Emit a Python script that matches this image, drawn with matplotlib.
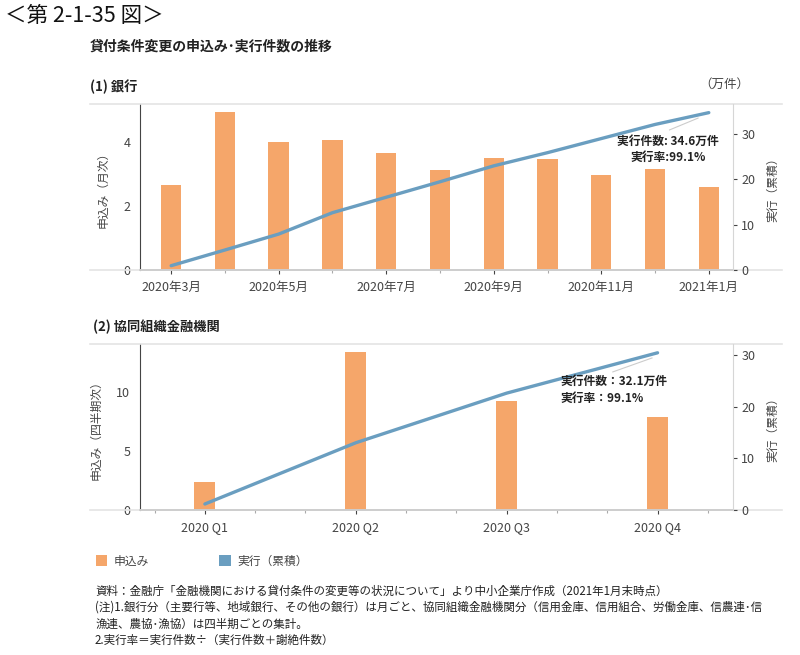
#!/usr/bin/env python3
"""Loan condition change applications / executions (fig 2-1-35), redrawn."""

import matplotlib
matplotlib.use("Agg")
import matplotlib.pyplot as plt
from matplotlib.lines import Line2D
from matplotlib.patches import Patch

plt.rcParams["font.family"] = ["Noto Sans CJK JP", "DejaVu Sans"]

# (1) banks, monthly
months = ["2020年3月", "2020年4月", "2020年5月", "2020年6月", "2020年7月",
          "2020年8月", "2020年9月", "2020年10月", "2020年11月", "2020年12月",
          "2021年1月"]
bank_apply = [2.66, 4.95, 4.0, 4.05, 3.67, 3.12, 3.49, 3.46, 2.96, 3.17, 2.59]
bank_cum = [0.95, 4.4, 7.9, 12.6, 16.0, 19.4, 22.9, 25.8, 28.9, 32.0, 34.6]

# (2) cooperative institutions, quarterly (placed on a month axis)
quarters = ["2020 Q1", "2020 Q2", "2020 Q3", "2020 Q4"]
quarter_month = [0, 3, 6, 9]
coop_apply = [2.37, 13.4, 9.26, 7.88]
coop_cum = [1.16, 13.0, 22.6, 30.4]

ORANGE = "#f5a66a"
BLUE = "#6a9ec0"
DARK = "#444444"
GRID = "#e4e4e4"

W, H = 800, 655


def fx(px):
    return px / W


def fy(py):
    return 1 - py / H


def frame(fig, top, bottom):
    # light horizontal rules spanning wider than the plot area
    for y in (top, bottom):
        fig.add_artist(Line2D([fx(90), fx(782)], [fy(y), fy(y)],
                              color=GRID, lw=1.2, zorder=0))


def style(ax, ax2):
    for s in ("top", "right"):
        ax.spines[s].set_visible(False)
    ax.spines["left"].set_color(DARK)
    ax.spines["bottom"].set_color(DARK)
    ax.spines["bottom"].set_linewidth(1.2)
    for s in ("top", "left", "bottom"):
        ax2.spines[s].set_visible(False)
    ax2.spines["right"].set_color("#d6d6d6")
    ax.tick_params(axis="y", length=0, pad=7, labelsize=9, labelcolor=DARK)
    ax2.tick_params(axis="y", length=3, width=0.8, color=DARK, pad=3,
                    labelsize=9, labelcolor=DARK)
    ax.tick_params(axis="x", which="major", length=3, width=0.8, color=DARK,
                   pad=5, labelsize=9, labelcolor=DARK)
    ax.tick_params(axis="x", which="minor", length=2, width=0.8,
                   color="#aaaaaa")
    ax.set_zorder(ax2.get_zorder() - 1)
    ax.patch.set_visible(False)
    ax2.patch.set_visible(False)


fig = plt.figure(figsize=(W / 100, H / 100), dpi=100)

fig.text(fx(5), fy(16), "＜第 2-1-35 図＞", fontsize=15.5, va="center",
         color="#111111")
fig.text(fx(90), fy(47), "貸付条件変更の申込み･実行件数の推移", fontsize=10,
         fontweight="bold", va="center", color="#222222")

# ---------- (1) banks ----------
fig.text(fx(90), fy(87), "(1) 銀行", fontsize=9.5, fontweight="bold",
         va="center", color="#222222")
fig.text(fx(724), fy(84), "（万件）", fontsize=9, va="center", ha="center",
         color=DARK)
frame(fig, 104, 270)
ax1 = fig.add_axes([fx(140), fy(270), fx(733) - fx(140), (270 - 104) / H])
ax1b = ax1.twinx()
style(ax1, ax1b)

xs = list(range(len(months)))
ax1.bar(xs, bank_apply, width=0.38, color=ORANGE)
ax1b.plot(xs, bank_cum, color=BLUE, lw=2.4, solid_capstyle="round")
ax1.set_xlim(-0.58, 10.45)
ax1.set_ylim(0, 5.19)
ax1b.set_ylim(0, 36.5)
ax1.set_yticks([0, 2, 4])
ax1b.set_yticks([0, 10, 20, 30])
ax1.set_xticks(xs[::2])
ax1.set_xticklabels(months[::2])
ax1.set_xticks(xs[1::2], minor=True)
ax1.set_ylabel("申込み（月次）", fontsize=8.5, color=DARK, labelpad=10)
ax1b.set_ylabel("実行（累積）", fontsize=8.5, color=DARK, labelpad=8)
ax1b.plot([9.27, 9.8], [30.8, 33.4], color="#cccccc", lw=0.8)
ax1b.text(9.24, 26.5, "実行件数: 34.6万件\n実行率:99.1%", ha="center",
          va="center", fontsize=8.5, fontweight="bold", color="#222222",
          linespacing=1.3)

# ---------- (2) cooperative ----------
fig.text(fx(93), fy(327), "(2) 協同組織金融機関", fontsize=9.5,
         fontweight="bold", va="center", color="#222222")
frame(fig, 344, 510)
ax2 = fig.add_axes([fx(140), fy(510), fx(733) - fx(140), (510 - 344) / H])
ax2b = ax2.twinx()
style(ax2, ax2b)

ax2.bar(quarter_month, coop_apply, width=0.42, color=ORANGE)
ax2b.plot(quarter_month, coop_cum, color=BLUE, lw=2.4, solid_capstyle="round")
ax2.set_xlim(-1.29, 10.5)
ax2.set_ylim(0, 14.07)
ax2b.set_ylim(0, 32.1)
ax2.set_yticks([0, 5, 10])
ax2b.set_yticks([0, 10, 20, 30])
ax2.set_xticks(quarter_month)
ax2.set_xticklabels(quarters)
ax2.set_xticks([m for m in range(-1, 11) if m % 3 != 0], minor=True)
ax2.set_ylabel("申込み（四半期次）", fontsize=8.5, color=DARK, labelpad=10)
ax2b.set_ylabel("実行（累積）", fontsize=8.5, color=DARK, labelpad=8)
ax2b.plot([8.11, 8.89], [26.7, 29.4], color="#cccccc", lw=0.8)
ax2b.text(7.06, 23.2, "実行件数：32.1万件\n実行率：99.1%", ha="left",
          va="center", fontsize=8.5, fontweight="bold", color="#222222",
          linespacing=1.45)

# ---------- legend ----------
handles = [Patch(facecolor=ORANGE, edgecolor="none", label="申込み"),
           Patch(facecolor=BLUE, edgecolor="none", label="実行（累積）")]
fig.legend(handles=handles, loc="center left",
           bbox_to_anchor=(fx(85), fy(561)), ncol=2, frameon=False,
           fontsize=8.5, handlelength=1.0, handleheight=1.0,
           handletextpad=0.5, columnspacing=6.0, labelcolor=DARK)

# ---------- notes ----------
notes = [
    "資料：金融庁「金融機関における貸付条件の変更等の状況について」より中小企業庁作成（2021年1月末時点）",
    "(注)1.銀行分（主要行等、地域銀行、その他の銀行）は月ごと、協同組織金融機関分（信用金庫、信用組合、労働金庫、信農連･信",
    "漁連、農協･漁協）は四半期ごとの集計。",
    "2.実行率＝実行件数÷（実行件数＋謝絶件数）",
]
for i, line in enumerate(notes):
    fig.text(fx(95), fy(591 + i * 16.5), line, fontsize=8.3, va="center",
             color="#222222")

fig.savefig("out.png", dpi=100)
plt.close(fig)
print("wrote out.png")
